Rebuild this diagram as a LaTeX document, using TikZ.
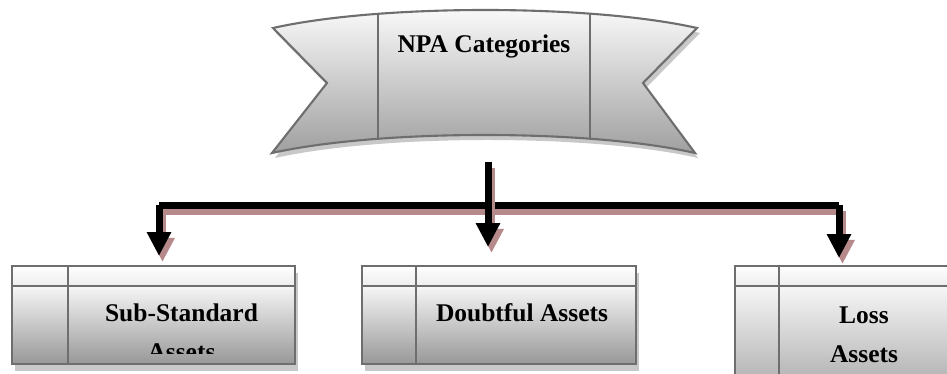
\documentclass[tikz,border=0pt]{standalone}
\usepackage{fontspec}
\setmainfont{Liberation Serif}
\usetikzlibrary{arrows.meta}

\definecolor{edgegray}{RGB}{110,110,110}
\definecolor{shadowgray}{RGB}{200,200,200}
\definecolor{shadowred}{RGB}{182,138,138}

\tikzset{
  outline/.style={draw=edgegray, line width=1.2pt},
  ribbonfill/.style={top color={rgb,255:red,252;green,252;blue,252}, bottom color={rgb,255:red,160;green,160;blue,160}},
  headfill/.style={top color=white, bottom color={rgb,255:red,236;green,236;blue,236}},
  bodyfill/.style={top color={rgb,255:red,246;green,246;blue,246}, bottom color={rgb,255:red,152;green,152;blue,152}},
  captext/.style={font=\fontsize{14.5}{22.5}\selectfont\bfseries, inner sep=0pt},
  blockarrow/.style={line width=0.14cm, -{Triangle[width=0.46cm,length=0.48cm]}},
  barline/.style={line width=0.14cm},
  dropshadow/.style={shadowred, transform canvas={xshift=0.07cm, yshift=-0.12cm}}
}

% the banner outline
\newcommand{\ribbonpath}{(273,28) .. controls (380,4) and (590,4) .. (697,28) -- (643,83) -- (695,153) .. controls (590,129) and (380,129) .. (272,153) -- (327,83) -- cycle}

\begin{document}
\begin{tikzpicture}[x=0.02cm, y=-0.02cm]
  \clip (0,0) rectangle (947,374);

  % banner
  \fill[shadowgray, shift={(3,5)}] \ribbonpath;
  \draw[outline, ribbonfill] \ribbonpath;
  \draw[outline] (378,14.5) -- (378,139.5);
  \draw[outline] (590,14.5) -- (590,139.5);
  \node[captext] (npa) at (484,46) {NPA Categories};

  % boxes
  \foreach \l/\c/\r/\b in {12/68/295/364, 362/416/636/364, 735/779/990/420} {
    \fill[shadowgray] (\l+3,273) rectangle (\r+3,\b+7);
    \draw[outline, headfill] (\l,266) rectangle (\r,286);
    \draw[outline, bodyfill] (\l,286) rectangle (\r,\b);
    \draw[outline] (\c,266) -- (\c,\b);
  }

  \begin{scope}
    \clip (68,286) rectangle (295,354);
    \node[captext, align=center] (sub) at (181.5,332.5) {Sub-Standard\\Assets};
  \end{scope}
  \node[captext] (doubt) at (522,313) {Doubtful Assets};
  \node[captext, align=center] (loss) at (864,335) {Loss\\Assets};

  % connectors
  \coordinate (npa-out) at (488,162);
  \coordinate (lft) at (159,205.5);
  \coordinate (rgt) at (839,205.5);
  \coordinate (sub-in) at (159,256);
  \coordinate (doubt-in) at (488,247);
  \coordinate (loss-in) at (839,258);

  \draw[barline, dropshadow] (lft) -- (rgt);
  \draw[barline] (lft) -- (rgt);
  \foreach \a/\b in {npa-out/doubt-in, lft/sub-in, rgt/loss-in} {
    \draw[blockarrow, dropshadow] (\a) -- (\b);
    \draw[blockarrow] (\a) -- (\b);
  }
\end{tikzpicture}
\end{document}
